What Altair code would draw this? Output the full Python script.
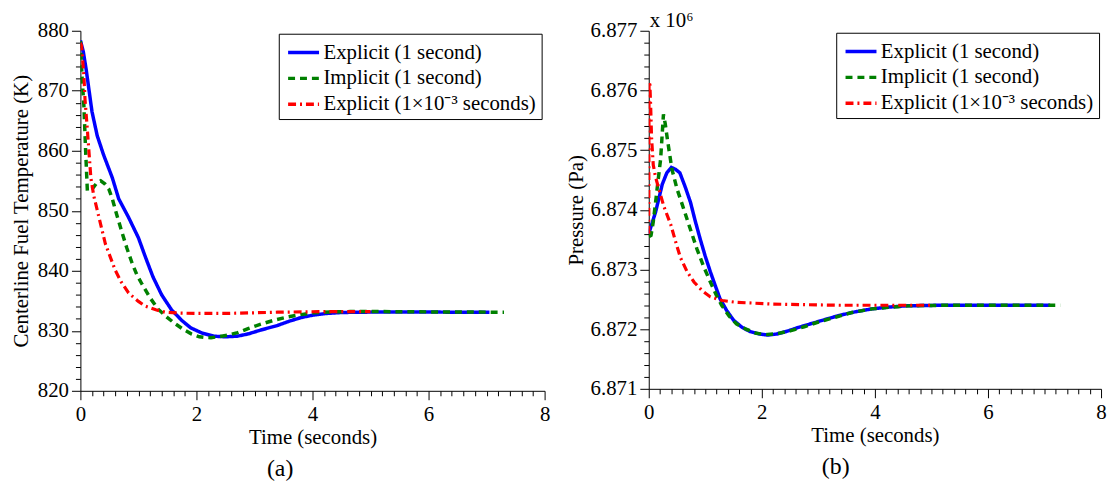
import altair as alt
import pandas as pd

SERIES = ["Explicit (1 second)", "Implicit (1 second)", "Explicit (1×10⁻³ seconds)"]
COLORS = ["#0000ff", "#008000", "#ff0000"]
DASHES = [[1, 0], [7, 5], [8, 4, 2, 4]]
WIDTHS = [3.5, 3.5, 3.2]

# ---- panel (a): centerline fuel temperature (K) ----
a_blue_t = [0, 0.05, 0.1, 0.2, 0.29, 0.4, 0.55, 0.66, 0.83, 1.0, 1.12, 1.25, 1.4, 1.57, 1.75, 1.9, 2.1, 2.3, 2.5,
            2.7, 2.9, 3.1, 3.4, 3.6, 3.8, 4.0, 4.25, 4.5, 4.8, 5.5, 6.5, 7.05]
a_blue_v = [878.4, 876.5, 873.5, 866.5, 862.5, 859.3, 855.5, 852.0, 848.9, 845.5, 842.3, 839.0, 836.0, 833.5, 831.7,
            830.5, 829.6, 829.1, 829.0, 829.1, 829.5, 830.1, 830.9, 831.6, 832.2, 832.6, 832.9, 833.05, 833.1, 833.15,
            833.1, 833.1]
a_green_t = [0, 0.03, 0.06, 0.09, 0.12, 0.2, 0.28, 0.35, 0.42, 0.49, 0.55, 0.63, 0.72, 0.8, 0.89, 0.97, 1.06, 1.2,
             1.34, 1.5, 1.63, 1.78, 1.91, 2.05, 2.14, 2.25, 2.37, 2.55, 2.71, 2.9, 3.11, 3.35, 3.57, 3.8, 4.02, 4.3,
             4.65, 5.2, 6.0, 7.3]
a_green_v = [878.3, 872.0, 867.5, 860.0, 853.3, 853.6, 854.6, 855.0, 854.5, 853.6, 852.0, 849.2, 846.3, 843.8, 841.3,
             839.4, 837.8, 835.5, 833.6, 832.2, 831.2, 830.2, 829.5, 829.0, 828.9, 828.85, 829.0, 829.3, 829.7, 830.4,
             831.1, 831.8, 832.3, 832.7, 833.0, 833.15, 833.2, 833.2, 833.15, 833.1]
a_red_t = [0, 0.02, 0.06, 0.08, 0.1, 0.12, 0.15, 0.18, 0.23, 0.32, 0.43, 0.6, 0.7, 0.83, 1.0, 1.12, 1.3, 1.46, 1.7,
           1.97, 2.54, 3.0, 3.4, 4.25, 5.0]
a_red_v = [878.0, 877.5, 872.5, 868.5, 866.0, 863.5, 859.5, 855.5, 852.5, 848.9, 844.5, 840.1, 838.2, 836.3, 834.9,
           834.1, 833.5, 833.1, 832.95, 832.9, 832.9, 833.0, 833.1, 833.2, 833.2]

# ---- panel (b): pressure (x 10^6 Pa) ----
b_blue_t = [0, 0.12, 0.24, 0.32, 0.40, 0.47, 0.55, 0.65, 0.74, 0.82, 0.91, 1.0, 1.09, 1.18, 1.26, 1.38, 1.5, 1.65,
            1.79, 1.95, 2.11, 2.27, 2.43, 2.65, 2.9, 3.15, 3.37, 3.65, 3.95, 4.25, 4.54, 5.12, 6.0, 7.1]
b_blue_v = [6.8736, 6.87396, 6.87443, 6.87462, 6.87471, 6.87468, 6.87462, 6.87437, 6.87412, 6.87382, 6.87351,
            6.87322, 6.87296, 6.87272, 6.87251, 6.87231, 6.87215, 6.87203, 6.87196, 6.87192, 6.8719, 6.87192,
            6.87196, 6.87203, 6.8721, 6.87217, 6.87223, 6.87229, 6.87234, 6.87237, 6.87239, 6.8724, 6.8724, 6.8724]
b_green_t = [0, 0.04, 0.08, 0.12, 0.16, 0.21, 0.24, 0.26, 0.29, 0.33, 0.41, 0.5, 0.62, 0.72, 0.85, 0.97, 1.09, 1.19,
             1.29, 1.42, 1.55, 1.72, 1.9, 2.1, 2.3, 2.5, 2.75, 3.0, 3.3, 3.6, 3.95, 4.3, 4.6, 5.2, 6.0, 7.28]
b_green_v = [6.87355, 6.87357, 6.8738, 6.87412, 6.87445, 6.87485, 6.8753, 6.8756, 6.87545, 6.87518, 6.87468,
             6.87435, 6.87401, 6.87372, 6.87335, 6.87305, 6.87279, 6.87258, 6.8724, 6.87222, 6.87209, 6.872,
             6.87193, 6.87191, 6.87193, 6.87197, 6.87204, 6.87212, 6.8722, 6.87228, 6.87234, 6.87237, 6.87239,
             6.8724, 6.8724, 6.8724]
b_red_t = [0, 0.005, 0.02, 0.035, 0.05, 0.08, 0.12, 0.18, 0.27, 0.39, 0.48, 0.56, 0.68, 0.8, 0.95, 1.09, 1.3, 1.55,
           2.2, 3.37, 4.5, 5.0]
b_red_v = [6.8736, 6.87615, 6.8761, 6.8757, 6.8752, 6.87475, 6.87455, 6.87434, 6.87405, 6.87375, 6.87345, 6.8732,
           6.87296, 6.87279, 6.87264, 6.87254, 6.87248, 6.87245, 6.87242, 6.8724, 6.8724, 6.8724]

X_TICKS = [round(0.2 * i, 1) for i in range(41)]
TEMP_TICKS = list(range(820, 882, 2))
PRES_TICKS = [round(6.871 + 0.0002 * i, 4) for i in range(31)]

FONT = "Liberation Serif"
FS = 21


def axis(title, values, major_test, fmt, title_pad, label_pad=3):
    return alt.Axis(
        title=title, values=values, format=fmt,
        labelExpr=f"({major_test}) ? datum.label : ''",
        tickSize={"condition": {"test": major_test, "value": 9}, "value": 5},
        grid=False, labelOverlap=False, labelFlush=False,
        labelPadding=label_pad, titlePadding=title_pad,
    )


X_MAJOR = "abs(datum.value/2 - round(datum.value/2)) < 0.001"
T_MAJOR = "abs(datum.value/10 - round(datum.value/10)) < 0.001"
P_MAJOR = "abs(datum.value*1000 - round(datum.value*1000)) < 0.01"


def panel(series_data, ydomain, yaxis, width, height, caption, legend_offset, extra=None):
    xenc = alt.X("t:Q", scale=alt.Scale(domain=[0, 8], nice=False),
                 axis=axis("Time (seconds)", X_TICKS, X_MAJOR, "~g", 2, 4))
    yenc = alt.Y("v:Q", scale=alt.Scale(domain=ydomain, nice=False, zero=False), axis=yaxis)
    legend = alt.Legend(
        title=None, orient="top-right", offset=legend_offset, symbolType="M-0.8,0L1.8,0", symbolSize=576,
        symbolStrokeWidth=3.5, labelFont=FONT, labelFontSize=FS, labelColor="black", labelLimit=0,
        strokeColor="black", fillColor="white", padding=5, rowPadding=2, labelOffset=12,
    )
    layers = []
    for i, (ts, vs) in enumerate(series_data):
        df = pd.DataFrame({"t": ts, "v": vs, "series": SERIES[i]})
        layers.append(
            alt.Chart(df).mark_line(strokeWidth=WIDTHS[i], clip=True).encode(
                x=xenc, y=yenc,
                color=alt.Color("series:N", scale=alt.Scale(domain=SERIES, range=COLORS), legend=legend),
                strokeDash=alt.StrokeDash("series:N", scale=alt.Scale(domain=SERIES, range=DASHES), legend=legend),
            )
        )
    if extra is not None:
        layers.append(extra(xenc, yenc))
    return alt.layer(*layers).properties(
        width=width, height=height,
        title=alt.TitleParams(caption, orient="bottom", anchor="middle", frame="bounds", font=FONT, fontSize=24,
                              fontWeight="normal", color="black", offset=10),
    )


def exponent_label(xenc, yenc):
    df = pd.DataFrame({"t": [0], "v": [6.877], "label": ["x 10⁶"]})
    return alt.Chart(df).mark_text(align="left", baseline="alphabetic", dx=1, dy=-4, font=FONT,
                                   fontSize=FS, color="black").encode(x=xenc, y=yenc, text="label:N")


left = panel(
    [(a_blue_t, a_blue_v), (a_green_t, a_green_v), (a_red_t, a_red_v)],
    [820, 880], axis("Centerline Fuel Temperature (K)", TEMP_TICKS, T_MAJOR, "d", 6),
    468, 363, "(a)", 3,
)
right = panel(
    [(b_blue_t, b_blue_v), (b_green_t, b_green_v), (b_red_t, b_red_v)],
    [6.871, 6.877], axis("Pressure (Pa)", PRES_TICKS, P_MAJOR, ".3f", 4),
    456, 361, "(b)", 2, extra=exponent_label,
)

chart = alt.hconcat(left, right, spacing=14).resolve_scale(
    x="independent", y="independent", color="independent", strokeDash="independent"
).properties(
    padding={"left": 2, "top": 0, "right": 0, "bottom": 0}
).configure_view(stroke=None).configure_axis(
    labelFont=FONT, labelFontSize=FS, titleFont=FONT, titleFontSize=FS, titleFontWeight="normal",
    labelColor="black", titleColor="black", domainColor="black", tickColor="black",
    domainWidth=1, tickWidth=1,
)

chart.save("out.html", embed_options={"renderer": "svg", "actions": False})
